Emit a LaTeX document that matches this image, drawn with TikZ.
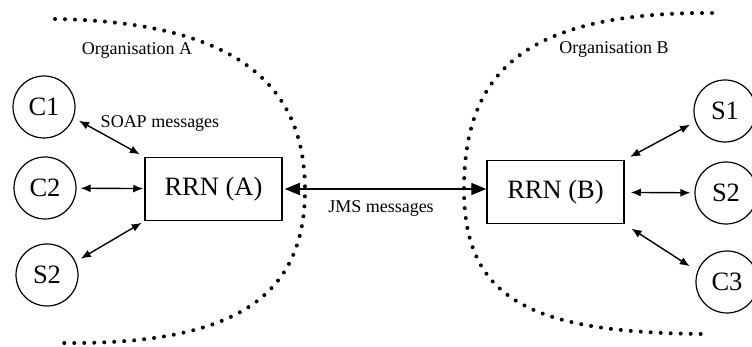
\documentclass[tikz,border=0pt]{standalone}
\usepackage{fontspec}
\setmainfont{Liberation Serif}
\usetikzlibrary{arrows.meta}

\begin{document}
\begin{tikzpicture}[x=1pt, y=-1pt,
    peer/.style={draw, circle, line width=1.2pt, minimum size=62pt, inner sep=0pt, font=\fontsize{26.5}{30}\selectfont},
    relay/.style={draw, rectangle, line width=1.5pt, minimum width=137pt, minimum height=63pt, inner sep=0pt, font=\fontsize{26.5}{30}\selectfont},
    lbl/.style={font=\fontsize{18}{21}\selectfont},
    sarrow/.style={{Latex[length=10pt,width=8pt]}-{Latex[length=10pt,width=8pt]}, line width=1.4pt},
    jarrow/.style={{Triangle[length=15pt,width=12pt]}-{Triangle[length=15pt,width=12pt]}, line width=1.4pt},
    border/.style={line width=4pt, line cap=round, dash pattern=on 0pt off 10pt}]
    \useasboundingbox (0,0) rectangle (752,347);
    % organisation borders
    \draw[border] (55,19) .. controls (230,22) and (305,80) .. (305,190) .. controls (305,300) and (230,345) .. (60,343);
    \draw[border] (712,13) .. controls (520,12) and (464,75) .. (464,190) .. controls (464,305) and (540,333) .. (708,334);
    % relay nodes
    \node[relay] (rrna) at (213.5,189) {RRN (A)};
    \node[relay] (rrnb) at (555.5,192) {RRN (B)};
    % clients and services
    \node[peer] (c1) at (44,107) {C1};
    \node[peer] (c2) at (45,188) {C2};
    \node[peer] (s2a) at (47,275) {S2};
    \node[peer] (s1) at (725,111) {S1};
    \node[peer] (s2b) at (726,193) {S2};
    \node[peer] (c3) at (727,282) {C3};
    % labels
    \node[lbl] (orga) at (137,50) {Organisation A};
    \node[lbl] (orgb) at (614,49) {Organisation B};
    \node[lbl] (soap) at (160,123) {SOAP messages};
    \node[lbl] (jms) at (381,208) {JMS messages};
    % connectors
    \draw[sarrow, shorten <=6pt, shorten >=5pt] (c1.-20) -- (rrna.north west);
    \draw[sarrow, shorten <=4pt, shorten >=1pt] (c2) -- (rrna);
    \draw[sarrow, shorten <=6pt, shorten >=3pt] (s2a.25) -- (rrna.south west);
    \draw[jarrow, shorten <=2pt] (rrna) -- (rrna -| rrnb.west);
    \draw[sarrow, shorten <=6pt, shorten >=6pt] (rrnb.north east) -- (s1.200);
    \draw[sarrow, shorten <=6pt, shorten >=4pt] (rrnb) -- (s2b);
    \draw[sarrow, shorten <=8pt, shorten >=9pt] (rrnb.south east) -- (c3.160);
\end{tikzpicture}
\end{document}
